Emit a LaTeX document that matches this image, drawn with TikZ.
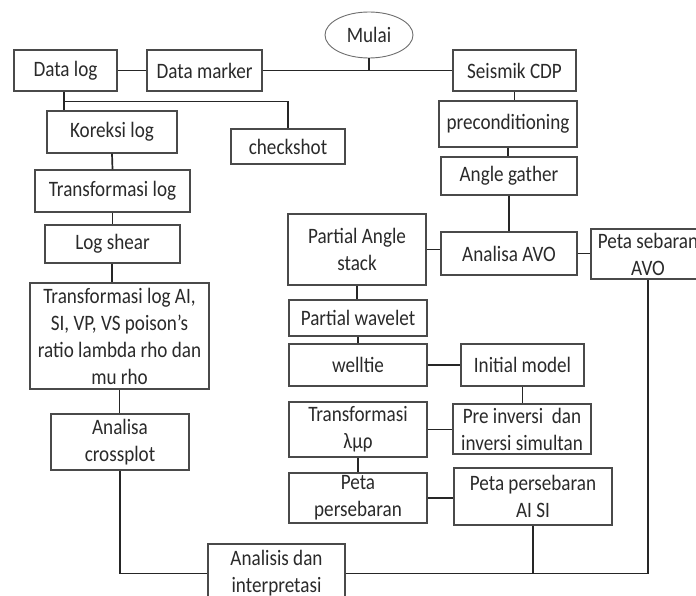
\documentclass[tikz,border=0pt]{standalone}
\usepackage{fontspec}
\setmainfont{Carlito}[FakeStretch=0.87]
\usetikzlibrary{shapes.geometric}
\definecolor{boxline}{HTML}{4A4A4A}
\definecolor{txt}{HTML}{2A2A2A}
\begin{document}
\begin{tikzpicture}[x=1pt,y=-1pt,
  box/.style={draw=boxline, line width=1.1pt, rectangle, inner sep=0pt, align=center,
    text=txt, font=\fontsize{22}{27}\selectfont},
  conn/.style={draw=black!85, line width=1.7pt},
  startnode/.style={draw=boxline!80, line width=0.9pt, ellipse, inner sep=0pt,
    text=txt, font=\fontsize{22}{27}\selectfont}]
\clip (0,0) rectangle (696,596);
\fill[white] (0,0) rectangle (696,596);
% nodes
\node[startnode, minimum width=88pt, minimum height=46pt] (mulai) at (369,35) {Mulai};
\node[box, minimum width=103pt, minimum height=41pt] (dl) at (65.5,70.5) {Data log};
\node[box, minimum width=115pt, minimum height=41pt] (dm) at (204.5,70.5) {Data marker};
\node[box, minimum width=123pt, minimum height=41pt] (sc) at (514.5,70.5) {Seismik CDP};
\node[box, minimum width=130pt, minimum height=42pt] (kl) at (112,132) {Koreksi log};
\node[box, minimum width=114pt, minimum height=35pt] (cs) at (288,146.5) {checkshot};
\node[box, minimum width=155pt, minimum height=42pt] (tl) at (112.5,191) {Transformasi log};
\node[box, minimum width=135pt, minimum height=38pt] (ls) at (112.5,244) {Log shear};
\node[box, minimum width=179pt, minimum height=106pt] (tlai) at (119.5,336) {Transformasi log AI,\\SI, VP, VS poison’s\\ratio lambda rho dan\\mu rho};
\node[box, minimum width=138pt, minimum height=56pt] (ac) at (120,442) {Analisa\\crossplot};
\node[box, minimum width=137pt, minimum height=59pt] (an) at (276.5,573.5) {Analisis dan\\interpretasi};
\node[box, minimum width=138pt, minimum height=46pt] (pre) at (508,124) {preconditioning};
\node[box, minimum width=136pt, minimum height=38pt] (ag) at (509,176) {Angle gather};
\node[box, minimum width=136pt, minimum height=43pt] (avo) at (509,253.5) {Analisa AVO};
\node[box, minimum width=138pt, minimum height=71pt] (pas) at (357,249.5) {Partial Angle\\stack};
\node[box, minimum width=114pt, minimum height=50pt] (psavo) at (648,254) {Peta sebaran\\AVO};
\node[box, minimum width=138pt, minimum height=36pt] (pw) at (358,318) {Partial wavelet};
\node[box, minimum width=138pt, minimum height=42pt] (wt) at (358,365) {welltie};
\node[box, minimum width=123pt, minimum height=42pt] (im) at (522.5,365) {Initial model};
\node[box, minimum width=138pt, minimum height=50pt] (pi) at (522,429) {Pre inversi \ dan\\inversi simultan};
\node[box, minimum width=138pt, minimum height=55pt] (tr) at (358,429.5) {Transformasi\\λμρ};
\node[box, minimum width=138pt, minimum height=50pt] (pp) at (358,498) {Peta\\persebaran};
\node[box, minimum width=158pt, minimum height=57pt] (aisi) at (533,496.5) {Peta persebaran\\AI SI};
% connectors
\draw[conn] (dl.east) -- (dm.west);
\draw[conn] (dm.east) -- (sc.west);
\draw[conn] (mulai.south) -- (mulai.south |- dm.east);
\coordinate (dlb) at ([xshift=-1.5pt]dl.south);
\draw[conn] (dlb) -- (dlb |- kl.north);
\draw[conn] (dlb) ++(0,10) -| (cs.north);
\draw[conn] (kl.south) -- (tl.north);
\draw[conn] (tl.south) -- (ls.north);
\draw[conn] ([xshift=-0.5pt]ls.south) -- ([xshift=-0.5pt]ls.south |- tlai.north);
\draw[conn] (tlai.south) -- (tlai.south |- ac.north);
\draw[conn] (ac.south) |- (an.west);
\draw[conn] (an.east) -| (psavo.south);
\draw[conn] (aisi.south) -- (aisi.south |- an.east);
\draw[conn] (sc.south) -- (sc.south |- pre.north);
\draw[conn] (pre.south) -- (pre.south |- ag.north);
\draw[conn] (ag.south) -- (avo.north);
\draw[conn] (pas.east) -- (pas.east -| avo.west);
\draw[conn] (avo.east) -- (avo.east -| psavo.west);
\draw[conn] (pas.south) -- (pas.south |- pw.north);
\draw[conn] (pw.south) -- (wt.north);
\draw[conn] (wt.east) -- (im.west);
\draw[conn] (im.south) -- (im.south |- pi.north);
\draw[conn] (tr.east) -- (tr.east -| pi.west);
\draw[conn] (tr.south) -- (pp.north);
\draw[conn] (pp.east) -- (pp.east -| aisi.west);
\end{tikzpicture}
\end{document}
